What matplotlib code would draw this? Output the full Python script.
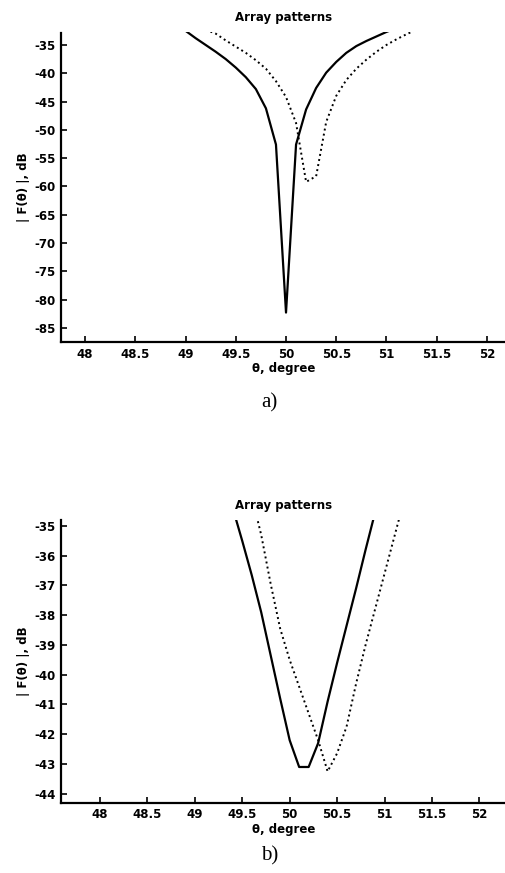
import numpy as np
import matplotlib
matplotlib.use('Agg')
import matplotlib.pyplot as plt

plt.rcParams['font.family'] = ['DejaVu Sans']

# panel a) data, step 0.1 degree
theta_a_solid = [49.0, 49.1, 49.2, 49.3, 49.4, 49.5, 49.6, 49.7, 49.8, 49.9, 50.0,
                 50.1, 50.2, 50.3, 50.4, 50.5, 50.6, 50.7, 50.8, 50.9, 51.0, 51.1]
F_a_solid = [-32.5, -33.8, -35.0, -36.2, -37.5, -39.0, -40.7, -42.8, -46.2, -52.6, -82.3,
             -52.6, -46.4, -42.6, -39.9, -38.0, -36.4, -35.2, -34.3, -33.5, -32.7, -32.0]

theta_a_dot = [49.2, 49.3, 49.4, 49.5, 49.6, 49.7, 49.8, 49.9, 50.0, 50.1, 50.2,
               50.3, 50.4, 50.5, 50.6, 50.7, 50.8, 50.9, 51.0, 51.1, 51.2, 51.3]
F_a_dot = [-32.3, -33.0, -34.2, -35.3, -36.4, -37.7, -39.2, -41.4, -44.2, -48.8, -59.2,
           -58.2, -48.6, -44.0, -41.2, -39.2, -37.6, -36.2, -35.0, -34.0, -33.1, -32.3]

# panel b) data
theta_b_solid = [49.4, 49.5, 49.6, 49.7, 49.8, 49.9, 50.0, 50.1, 50.2,
                 50.3, 50.4, 50.5, 50.6, 50.7, 50.8, 50.9, 51.0]
F_b_solid = [-34.4, -35.5, -36.65, -37.9, -39.35, -40.8, -42.2, -43.1, -43.1,
             -42.3, -40.9, -39.6, -38.35, -37.1, -35.8, -34.55, -33.3]

theta_b_dot = [49.6, 49.7, 49.8, 49.9, 50.0, 50.1, 50.2, 50.3, 50.4,
               50.5, 50.6, 50.7, 50.8, 50.9, 51.0, 51.1, 51.2]
F_b_dot = [-34.0, -35.3, -36.95, -38.45, -39.5, -40.4, -41.3, -42.2, -43.25,
           -42.64, -41.74, -40.3, -39.0, -37.8, -36.6, -35.4, -34.2]

xticks = [48, 48.5, 49, 49.5, 50, 50.5, 51, 51.5, 52]
yticks_a = [-35, -40, -45, -50, -55, -60, -65, -70, -75, -80, -85]
yticks_b = [-35, -36, -37, -38, -39, -40, -41, -42, -43, -44]

W, H = 506, 873
fig = plt.figure(figsize=(W / 100, H / 100), dpi=100)


def make_axes(left, top, right, bottom):
    return fig.add_axes([left / W, 1 - bottom / H, (right - left) / W, (bottom - top) / H])


def style(ax, yticks):
    for s in ['top', 'right']:
        ax.spines[s].set_visible(False)
    for s in ['left', 'bottom']:
        ax.spines[s].set_linewidth(1.6)
    ax.set_xticks(xticks)
    ax.set_xticklabels([f'{t:g}' for t in xticks])
    ax.set_yticks(yticks)
    ax.set_yticklabels([f'{t:g}' for t in yticks])
    ax.tick_params(direction='in', length=4, width=1.2, labelsize=8.5, pad=4)
    for lab in ax.get_xticklabels() + ax.get_yticklabels():
        lab.set_fontweight('bold')
    ax.set_title('Array patterns', fontsize=8.5, fontweight='bold', pad=8)
    ax.set_xlabel('θ, degree', fontsize=8.5, fontweight='bold', labelpad=1)
    ax.set_ylabel('| F(θ) |, dB', fontsize=8.5, fontweight='bold', labelpad=3)


ax1 = make_axes(61, 32.5, 506, 342)
ax1.plot(theta_a_solid, F_a_solid, color='black', lw=1.6)
ax1.plot(theta_a_dot, F_a_dot, color='black', lw=1.4, ls=':')
ax1.set_xlim(47.76, 52.19)
ax1.set_ylim(-87.5, -32.8)
style(ax1, yticks_a)

ax2 = make_axes(61, 520, 506, 802.7)
ax2.plot(theta_b_solid, F_b_solid, color='black', lw=1.6)
ax2.plot(theta_b_dot, F_b_dot, color='black', lw=1.4, ls=':')
ax2.set_xlim(47.59, 52.28)
ax2.set_ylim(-44.3, -34.8)
style(ax2, yticks_b)

fig.text(269 / W, 1 - 403 / H, 'a)', ha='center', va='center',
         fontsize=15, family='Liberation Serif')
fig.text(270 / W, 1 - 856 / H, 'b)', ha='center', va='center',
         fontsize=15, family='Liberation Serif')

fig.savefig('out.png', dpi=100)
